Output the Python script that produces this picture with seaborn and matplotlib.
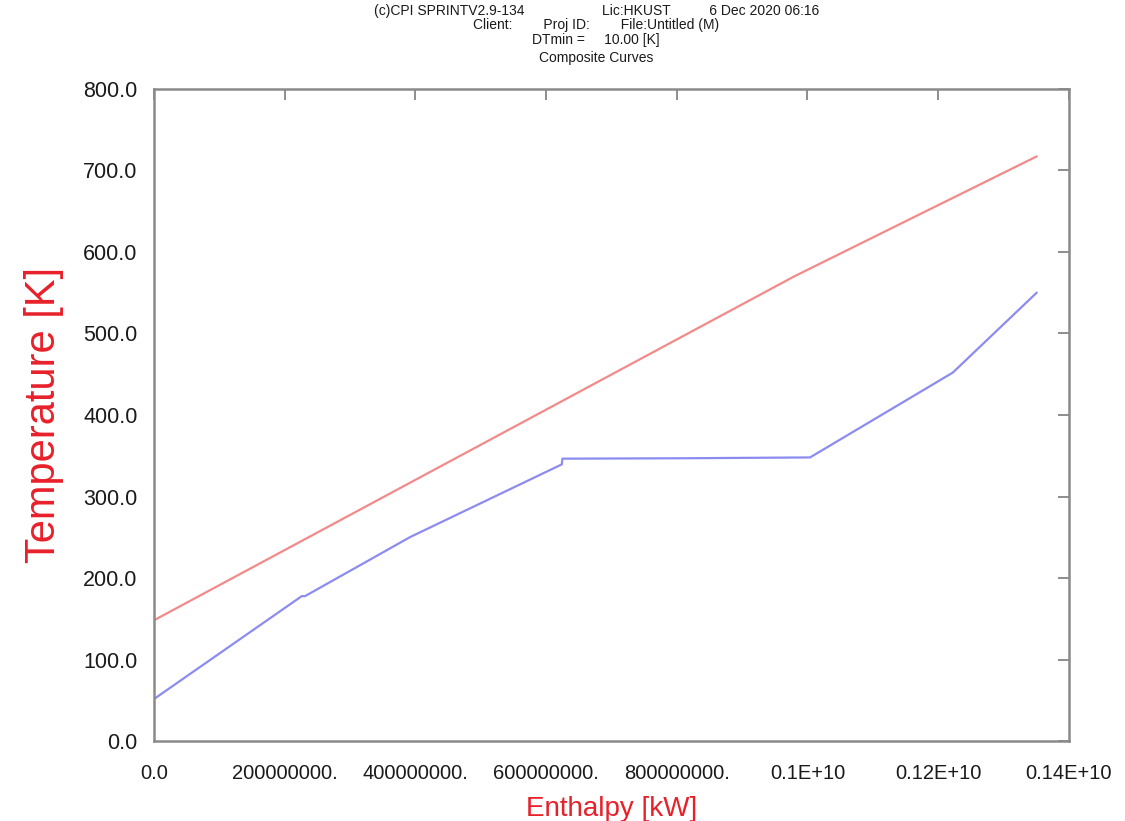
import seaborn as sns
import pandas as pd
import matplotlib.pyplot as plt

# composite curves
hot_h = [0.0, 0.98e9, 1.351e9]
hot_t = [148.5, 570.0, 717.0]

cold_h = [0.0, 0.226e9, 0.231e9, 0.391e9, 0.396e9, 0.624e9, 0.625e9, 0.81e9, 1.004e9, 1.2225e9, 1.351e9]
cold_t = [52.0, 178.0, 178.0, 250.0, 252.0, 339.5, 346.5, 347.0, 348.0, 452.0, 550.0]

x_ticks = [0, 2e8, 4e8, 6e8, 8e8, 1.0e9, 1.2e9, 1.4e9]
x_labels = ["0.0", "200000000.", "400000000.", "600000000.", "800000000.",
            "0.1E+10", "0.12E+10", "0.14E+10"]
y_ticks = [0, 100, 200, 300, 400, 500, 600, 700, 800]

header = ["(c)CPI SPRINTV2.9-134                    Lic:HKUST          6 Dec 2020 06:16",
          "Client:        Proj ID:        File:Untitled (M)",
          "DTmin =     10.00 [K]",
          "Composite Curves"]

sns.set_style("white")
plt.rcParams['font.family'] = ['Liberation Sans', 'DejaVu Sans']

hot = pd.DataFrame({"H": hot_h, "T": hot_t})
cold = pd.DataFrame({"H": cold_h, "T": cold_t})

fig = plt.figure(figsize=(11.25, 8.21), dpi=100)
ax = fig.add_axes([0.137, 0.097, 0.813, 0.795])

sns.lineplot(data=hot, x="H", y="T", sort=False, color="#f28a8a", lw=1.6, ax=ax)
sns.lineplot(data=cold, x="H", y="T", sort=False, color="#8c8cf0", lw=1.6, ax=ax)

ax.set_xlim(0, 1.4e9)
ax.set_ylim(0, 800)
ax.set_xticks(x_ticks)
ax.set_xticklabels(x_labels)
ax.set_yticks(y_ticks)
ax.set_yticklabels([f"{v:.1f}" for v in y_ticks])
ax.tick_params(axis="both", direction="in", length=8, width=1.2, color="#7a7a7a",
               labelsize=14.5, labelcolor="#1a1a1a", top=True, right=True)
ax.tick_params(axis="y", labelsize=15.5, pad=12)
ax.tick_params(axis="x", pad=16)
for s in ax.spines.values():
    s.set_color("#8a8a8a")
    s.set_linewidth(1.8)

ax.set_xlabel("Enthalpy [kW]", color="#e8202a", fontsize=20, labelpad=10)
ax.set_ylabel("Temperature [K]", color="#e8202a", fontsize=30, labelpad=14)

ys = [0.986, 0.969, 0.951, 0.929]
for txt, yy in zip(header, ys):
    fig.text(0.530, yy, txt, ha="center", va="center", fontsize=10, color="#1a1a1a")

fig.savefig("out.png", dpi=100)
